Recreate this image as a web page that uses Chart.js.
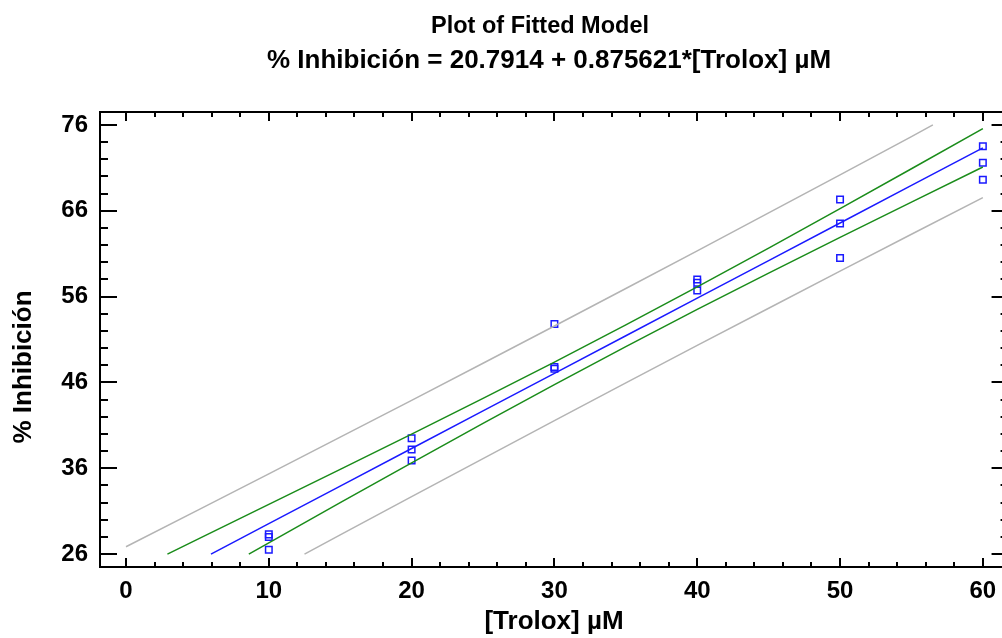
<!DOCTYPE html>
<html>
<head>
<meta charset="utf-8">
<script src="https://cdn.jsdelivr.net/npm/chart.js@4"></script>
<style>
html, body { margin: 0; padding: 0; background: #fff; overflow: hidden; }
canvas { display: block; }
</style>
</head>
<body>
<canvas id="myChart" width="1002" height="638"></canvas>
<script>
// observations
var obsX = [10, 10, 10, 20, 20, 20, 30, 30, 30, 40, 40, 40, 50, 50, 50, 60, 60, 60];
var obsY = [28.3, 28.0, 26.5, 39.5, 38.2, 36.9, 52.8, 47.8, 47.6, 58.0, 57.6, 56.7, 67.3, 64.5, 60.5, 73.5, 71.6, 69.6];

// fitted line
var fitX = [5.95, 10, 15, 20, 25, 30, 35, 40, 45, 50, 55, 60];
var fitY = [26.0, 29.55, 33.93, 38.30, 42.68, 47.06, 51.44, 55.82, 60.19, 64.57, 68.95, 73.33];

// confidence limits (green)
var confUpX = [2.9, 5, 10, 15, 20, 25, 30, 35, 40, 45, 50, 55, 60];
var confUpY = [26.0, 27.72, 31.79, 35.87, 39.98, 44.14, 48.37, 52.70, 57.13, 61.65, 66.25, 70.89, 75.57];
var confLoX = [8.6, 10, 15, 20, 25, 30, 35, 40, 45, 50, 55, 60];
var confLoY = [26.0, 27.31, 31.99, 36.62, 41.22, 45.75, 50.18, 54.51, 58.73, 62.89, 67.01, 71.09];

// prediction limits (gray)
var predUpX = [0, 5, 10, 15, 20, 25, 30, 35, 40, 45, 50, 55, 56.5];
var predUpY = [26.86, 31.10, 35.35, 39.62, 43.91, 48.23, 52.57, 56.94, 61.33, 65.74, 70.18, 74.64, 76.0];
var predLoX = [12.5, 15, 20, 25, 30, 35, 40, 45, 50, 55, 60];
var predLoY = [26.0, 28.24, 32.69, 37.13, 41.55, 45.94, 50.31, 54.64, 58.96, 63.26, 67.53];

var xTicks = [0, 10, 20, 30, 40, 50, 60];
var yTicks = [26, 36, 46, 56, 66, 76];

var titleLines = ['Plot of Fitted Model', '% Inhibición = 20.7914 + 0.875621*[Trolox] µM'];
var xTitle = '[Trolox] µM';
var yTitle = '% Inhibición';

var FONT = '"Liberation Sans", Arial, sans-serif';

function pairs(xs, ys) {
	var out = [];
	for (var i = 0; i < xs.length; i++) out.push({x: xs[i], y: ys[i]});
	return out;
}

function lineSet(xs, ys, color) {
	return {
		data: pairs(xs, ys),
		showLine: true,
		borderColor: color,
		borderWidth: 1.5,
		pointRadius: 0,
		fill: false,
		tension: 0
	};
}

var frame = {
	id: 'frame',
	afterDraw: function(chart) {
		var ctx = chart.ctx;
		var a = chart.chartArea;
		var sx = chart.scales.x, sy = chart.scales.y;
		// the real right edge of the frame sits just past the canvas
		var right = sx.getPixelForValue(61.8);
		ctx.save();
		ctx.strokeStyle = '#000';
		ctx.lineWidth = 2;
		ctx.strokeRect(a.left, a.top, right - a.left, a.bottom - a.top);

		// x ticks, bottom and top, pointing inward
		ctx.beginPath();
		for (var v = 0; v <= 60; v += 2) {
			var px = Math.round(sx.getPixelForValue(v));
			var len = (v % 10 == 0) ? 9 : 5;
			ctx.moveTo(px, a.bottom); ctx.lineTo(px, a.bottom - len);
			ctx.moveTo(px, a.top); ctx.lineTo(px, a.top + len);
		}
		// y ticks, left and right
		for (var w = 26; w <= 76; w += 2) {
			var py = Math.round(sy.getPixelForValue(w));
			var l2 = ((w - 26) % 10 == 0) ? 17 : 8;
			ctx.moveTo(a.left, py); ctx.lineTo(a.left + l2, py);
			ctx.moveTo(right, py); ctx.lineTo(right - l2, py);
		}
		ctx.stroke();

		ctx.fillStyle = '#000';
		ctx.font = 'bold 24px ' + FONT;
		ctx.textAlign = 'center';
		ctx.textBaseline = 'middle';
		xTicks.forEach(function(t) {
			ctx.fillText(String(t), sx.getPixelForValue(t), 591);
		});
		ctx.textAlign = 'right';
		yTicks.forEach(function(t) {
			ctx.fillText(String(t), 88, sy.getPixelForValue(t));
		});

		// axis titles
		ctx.font = 'bold 26px ' + FONT;
		ctx.textAlign = 'center';
		ctx.fillText(xTitle, 554, 622);
		ctx.save();
		ctx.translate(24, 367);
		ctx.rotate(-Math.PI / 2);
		ctx.fillText(yTitle, 0, 0);
		ctx.restore();

		// chart title
		ctx.font = 'bold 23.5px ' + FONT;
		ctx.fillText(titleLines[0], 540, 27);
		ctx.font = 'bold 26px ' + FONT;
		ctx.fillText(titleLines[1], 549, 61);
		ctx.restore();
	}
};

var ctx = document.getElementById('myChart').getContext('2d');
var myChart = new Chart(ctx, {
	type: 'scatter',
	data: {
		datasets: [
			lineSet(predUpX, predUpY, '#b4b4b4'),
			lineSet(predLoX, predLoY, '#b4b4b4'),
			lineSet(confUpX, confUpY, '#1a8c1a'),
			lineSet(confLoX, confLoY, '#1a8c1a'),
			lineSet(fitX, fitY, '#1a1aff'),
			{
				data: pairs(obsX, obsY),
				pointStyle: 'rect',
				pointRadius: 4.6,
				backgroundColor: 'rgba(0,0,0,0)',
				borderColor: '#1a1aff',
				borderWidth: 1.5
			}
		]
	},
	options: {
		responsive: false,
		animation: false,
		layout: { autoPadding: false, padding: { left: 100, right: 0, top: 112, bottom: 71 } },
		scales: {
			x: { type: 'linear', min: -1.82, max: 61.34, display: false },
			y: { type: 'linear', min: 24.5, max: 77.5, display: false }
		},
		plugins: {
			legend: { display: false },
			tooltip: { enabled: false }
		}
	},
	plugins: [frame]
});
</script>
</body>
</html>
